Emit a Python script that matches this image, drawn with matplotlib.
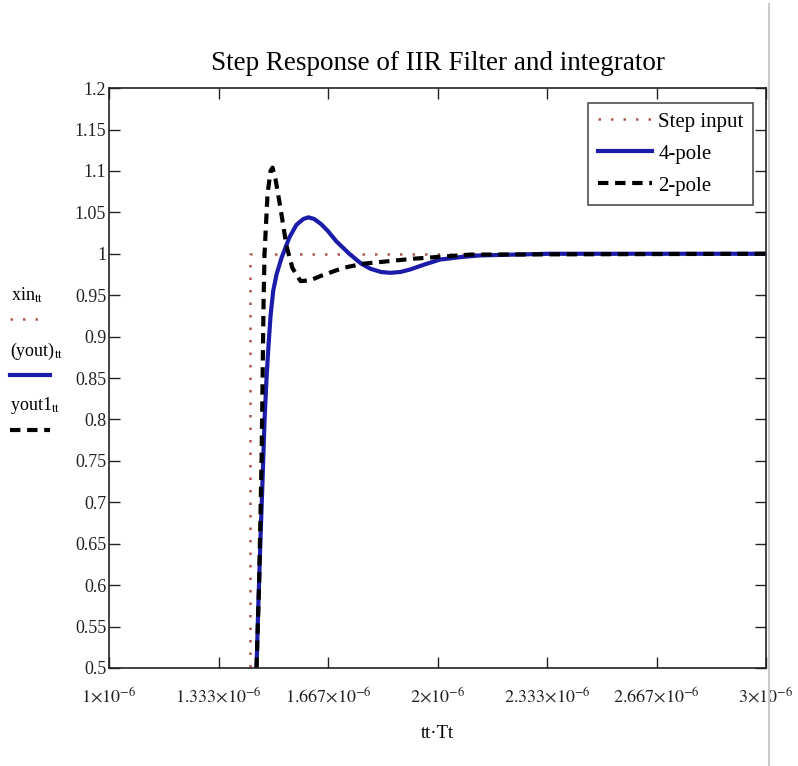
import numpy as np
import matplotlib
matplotlib.use('Agg')
import matplotlib.pyplot as plt
from matplotlib.lines import Line2D
from matplotlib.ticker import FixedLocator, FixedFormatter

plt.rcParams['font.family'] = ['Liberation Serif', 'DejaVu Serif']
plt.rcParams['mathtext.fontset'] = 'stix'

# step input (time in microseconds)
t_step = [1.0, 1.428, 1.428, 3.0]
y_step = [0.0, 0.0, 1.0, 1.0]

# 4-pole response
t_4pole = [1.449, 1.455, 1.461, 1.467, 1.4735, 1.4795, 1.4856, 1.4917, 1.4997,
           1.5099, 1.5251, 1.5494, 1.5706, 1.5918, 1.6070, 1.6243, 1.6450,
           1.6650, 1.6920, 1.7314, 1.7679, 1.795, 1.828, 1.856, 1.887, 1.9165,
           1.960, 2.0076, 2.070, 2.129, 2.341, 3.0]
y_4pole = [0.5, 0.582, 0.655, 0.723, 0.80, 0.85, 0.89, 0.925, 0.955,
           0.975, 0.995, 1.02, 1.035, 1.042, 1.044, 1.042, 1.036,
           1.028, 1.015, 1.000, 0.988, 0.982, 0.978, 0.977, 0.978, 0.981,
           0.987, 0.993, 0.996, 0.998, 1.0, 1.0]

# 2-pole response
t_2pole = [1.449, 1.4568, 1.4643, 1.4704, 1.4734, 1.4825, 1.4917, 1.4977, 1.5068,
           1.522, 1.540, 1.558, 1.583, 1.613, 1.643, 1.713, 1.774, 1.926, 2.099, 3.0]
y_2pole = [0.5, 0.6, 0.75, 0.94, 1.0, 1.072, 1.10, 1.104, 1.09,
           1.055, 1.01, 0.983, 0.967, 0.968, 0.973, 0.983, 0.988, 0.994, 0.999, 1.0]

xticks = [1.0, 4 / 3, 5 / 3, 2.0, 7 / 3, 8 / 3, 3.0]
xtick_labels = [r'$1{\times}10^{-6}$', r'$1.333{\times}10^{-6}$',
                r'$1.667{\times}10^{-6}$', r'$2{\times}10^{-6}$',
                r'$2.333{\times}10^{-6}$', r'$2.667{\times}10^{-6}$',
                r'$3{\times}10^{-6}$']
yticks = np.arange(0.5, 1.2001, 0.05)
ytick_labels = ['0.5', '0.55', '0.6', '0.65', '0.7', '0.75', '0.8', '0.85',
                '0.9', '0.95', '1', '1.05', '1.1', '1.15', '1.2']

step_color = '#a8584a'
step_style = (0, (1, 4))
dash_style = (0, (2.5, 1.6))
blue = '#1c1caa'

fig = plt.figure(figsize=(7.98, 7.66), dpi=100)
ax = fig.add_axes([0.1366, 0.128, 0.8234, 0.757])

ax.plot(t_step, y_step, color=step_color, linestyle=step_style, lw=1.8,
        label='Step input')
ax.plot(t_4pole, y_4pole, color=blue, lw=3, label='4-pole')
ax.plot(t_2pole, y_2pole, color='black', lw=3, linestyle=dash_style,
        label='2-pole')

ax.set_xlim(1.0, 3.0)
ax.set_ylim(0.5, 1.2)
ax.xaxis.set_major_locator(FixedLocator(xticks))
ax.xaxis.set_major_formatter(FixedFormatter(xtick_labels))
ax.yaxis.set_major_locator(FixedLocator(yticks))
ax.yaxis.set_major_formatter(FixedFormatter(ytick_labels))
ax.tick_params(direction='in', length=8, width=1, top=True, right=True,
               labelsize=13, colors='#222222')
ax.tick_params(axis='x', pad=13)
ax.tick_params(axis='y', pad=2)
for sp in ax.spines.values():
    sp.set_linewidth(1.2)
    sp.set_color('#222222')

ax.set_title('Step Response of IIR Filter and integrator', fontsize=19.5, pad=13)
ax.set_xlabel('tt\u00b7Tt', fontsize=13.5, labelpad=14)

leg = ax.legend(loc='upper right', bbox_to_anchor=(0.98, 0.975), fontsize=15,
                frameon=True, fancybox=False, edgecolor='#222222',
                handlelength=2.6, handletextpad=0.3, borderpad=0.45,
                labelspacing=0.6, borderaxespad=0)
leg.get_frame().set_linewidth(1.2)

# left side trace labels
fig.text(0.014, 0.614, r'xin$_{\mathrm{tt}}$', fontsize=13, va='center')
fig.add_artist(Line2D([0.013, 0.058], [0.584, 0.584], color=step_color,
                      linestyle=step_style, lw=1.8))
fig.text(0.012, 0.541, r'(yout)$_{\mathrm{tt}}$', fontsize=13, va='center')
fig.add_artist(Line2D([0.013, 0.063], [0.510, 0.510], color=blue, lw=3))
fig.text(0.012, 0.471, r'yout1$_{\mathrm{tt}}$', fontsize=13, va='center')
fig.add_artist(Line2D([0.013, 0.063], [0.438, 0.438], color='black', lw=3,
                      linestyle=dash_style))

# window border line on the right
fig.add_artist(Line2D([0.964, 0.964], [0.0, 0.995], color='#c8c8c8', lw=1.5))

fig.savefig('out.png', dpi=100)
